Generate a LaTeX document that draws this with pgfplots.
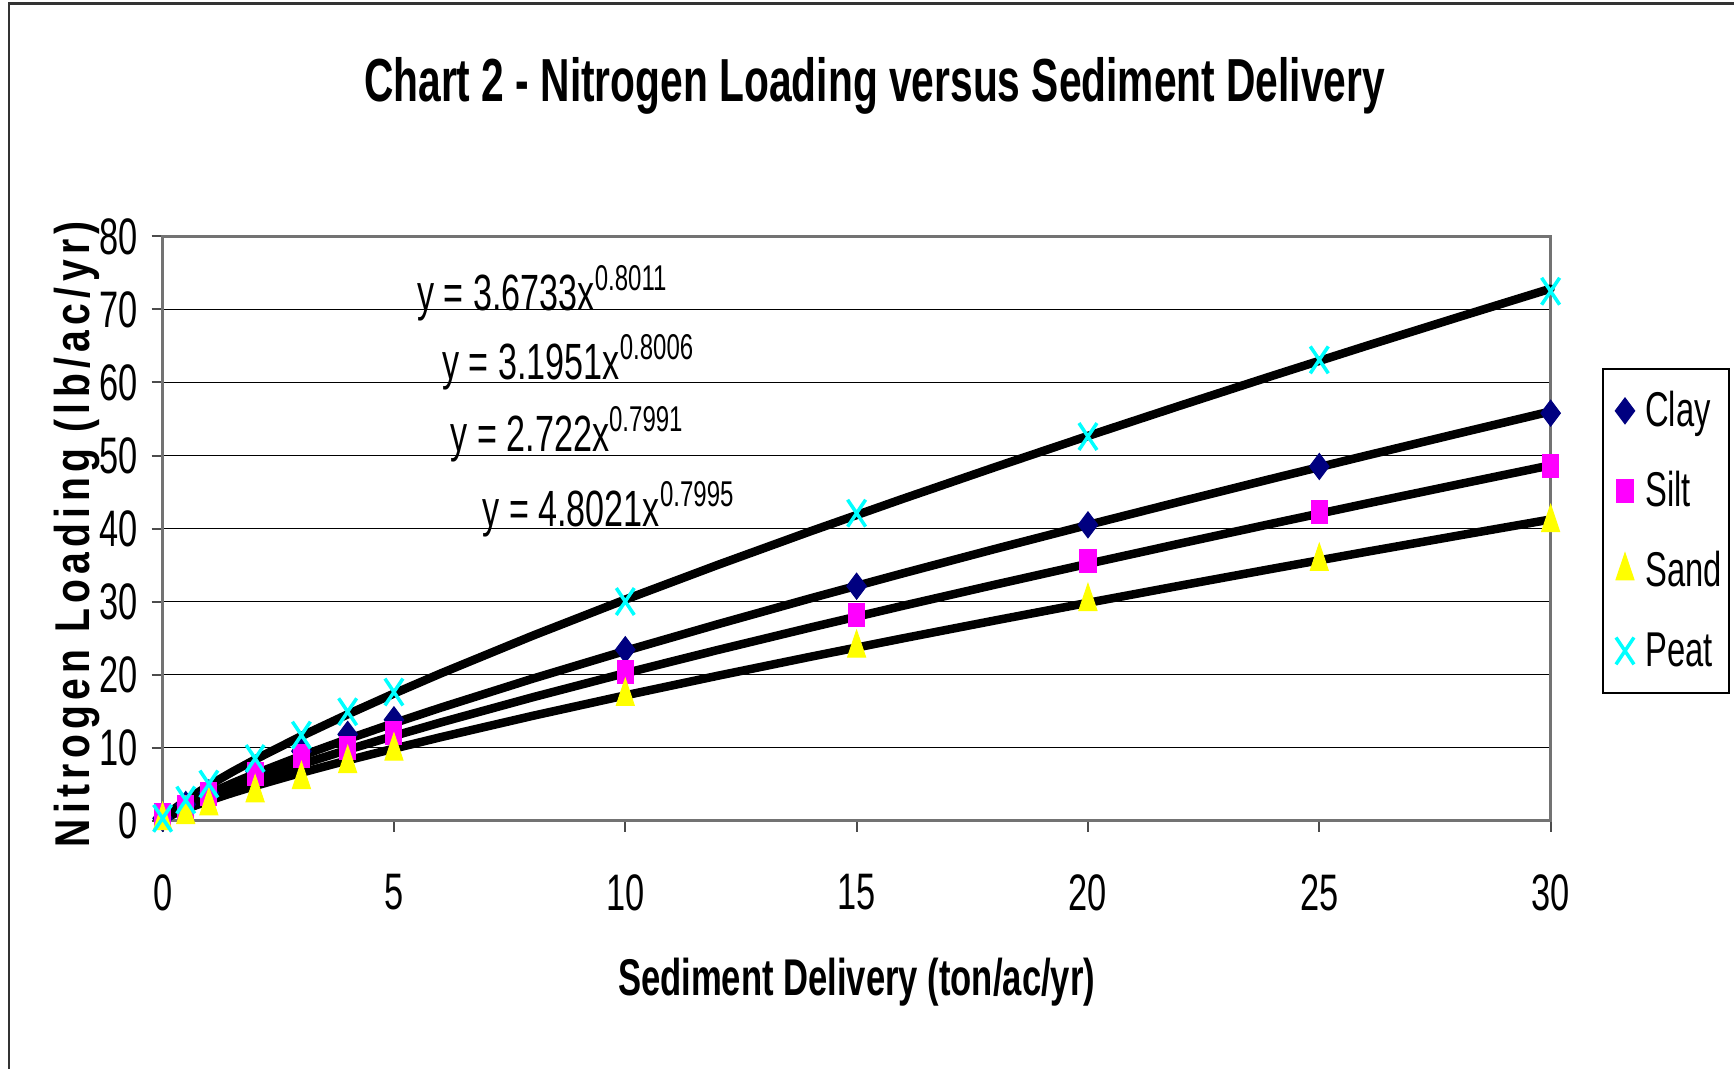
\documentclass[border=0pt]{standalone}
\usepackage{pgfplots}
\pgfplotsset{compat=1.18}
\usepackage{fontspec}
\setmainfont{Liberation Sans}[FakeStretch=0.67]
\newfontfamily\ylfont{Liberation Sans}[FakeStretch=0.8, LetterSpace=11]
\definecolor{clay}{RGB}{0,0,128}
\definecolor{silt}{RGB}{255,0,255}
\definecolor{sand}{RGB}{255,255,0}
\definecolor{peat}{RGB}{0,255,255}
\begin{document}
\begin{tikzpicture}[x=1mm,y=1mm]
\useasboundingbox (0,0) rectangle (173.4,106.8);
\draw[line width=0.25mm, black!80] (0.9,-2) -- (0.9,106.45) -- (175,106.45);
\begin{axis}[
  at={(16.26mm,24.75mm)}, anchor=south west,
  scale only axis, width=138.8mm, height=58.4mm,
  xmin=0, xmax=30, ymin=0, ymax=80,
  xtick={0,5,...,30}, ytick={0,10,...,80},
  clip=false,
  axis line style={draw=black!55, line width=0.3mm},
  ymajorgrids, major grid style={black, line width=0.12mm},
  tick align=outside, tick pos=left,
  major tick length=1.1mm,
  tick style={black!70, line width=0.2mm},
  /pgf/number format/assume math mode=true,
  tick label style={font=\fontsize{14.6pt}{16pt}\selectfont, inner sep=0pt},
  yticklabel shift=1.35mm,
  xticklabel shift=4.2mm,
  every axis title/.style={at={(axis description cs:0.513,1.257)}, anchor=center, inner sep=0pt},
  title={\fontsize{17.3pt}{20pt}\selectfont\bfseries Chart 2 - Nitrogen Loading versus Sediment Delivery},
  xlabel={\fontsize{14.7pt}{17pt}\selectfont\bfseries Sediment Delivery (ton/ac/yr)},
  xlabel style={at={(axis description cs:0.5,-0.276)}, anchor=center, inner sep=0pt, yshift=0pt},
  ylabel={\ylfont\fontsize{13.9pt}{17pt}\selectfont\bfseries Nitrogen Loading (lb/ac/yr)},
  ylabel style={at={(axis description cs:-0.062,0.49)}, anchor=center, inner sep=0pt, xshift=0pt},
  legend style={at={(axis description cs:1.037,0.775)}, anchor=north west,
    draw=black, line width=0.2mm, font=\fontsize{13.9pt}{16pt}\selectfont,
    inner xsep=0.7mm, inner ysep=1.9mm, row sep=3.4mm,
    nodes={inner sep=0pt, text height=3.9mm, text depth=0.7mm, anchor=west},
    /tikz/every odd column/.append style={column sep=1.05mm}},
  legend cell align=left,
  legend image code/.code={\path (0mm,0mm); \draw[#1] plot coordinates {(1.4mm,0mm)};},
]
% data points
\addplot[only marks, mark=diamond*, mark size=1.3mm, mark options={draw=clay, fill=clay, line width=0.1mm}] coordinates {
(0,0.3) (0.5,2.2) (1,3.8) (2,6.8) (3,9.5) (4,11.8) (5,13.8) (10,23.4) (15,32.1) (20,40.5) (25,48.5) (30,55.8)};
\addlegendentry{Clay}
\addplot[only marks, mark=square*, mark size=1.15mm, mark options={draw=silt, fill=silt, xscale=0.7, line width=0.1mm}] coordinates {
(0,0.8) (0.5,1.8) (1,3.6) (2,6.4) (3,8.8) (4,10.0) (5,12.0) (10,20.4) (15,28.2) (20,35.5) (25,42.3) (30,48.6)};
\addlegendentry{Silt}
\addplot[only marks, mark=triangle*, mark size=1.8mm, mark options={draw=sand, fill=sand, xscale=0.58, line width=0.1mm}] coordinates {
(0,0) (0.5,0.8) (1,2.0) (2,3.8) (3,5.6) (4,7.8) (5,9.5) (10,17.0) (15,23.6) (20,30.0) (25,35.5) (30,40.8)};
\addlegendentry{Sand}
\addplot[only marks, mark=x, mark size=1.9mm, mark options={draw=peat, xscale=0.67, line width=0.35mm}] coordinates {
(0,0.3) (0.5,2.8) (1,5.0) (2,8.5) (3,11.7) (4,14.9) (5,17.6) (10,30.0) (15,42.1) (20,52.6) (25,63.1) (30,72.5)};
\addlegendentry{Peat}
% trend lines (power fits, tabulated)
\addplot[forget plot, black, line width=0.85mm, line join=round, line cap=round] coordinates {
(0,0) (0.1,0.761) (0.25,1.584) (0.5,2.758) (1,4.802) (1.5,6.642) (2,8.361) (3,11.564) (4,14.547) (5,17.389) (6,20.117) (8,25.319) (10,30.264) (12,35.014) (14,39.612) (16,44.069) (18,48.421) (20,52.677) (22,56.846) (24,60.947) (26,64.977) (28,68.939) (30,72.853)};
\addplot[forget plot, black, line width=0.85mm, line join=round, line cap=round] coordinates {
(0,0) (0.1,0.582) (0.25,1.210) (0.5,2.108) (1,3.673) (1.5,5.083) (2,6.400) (3,8.857) (4,11.152) (5,13.336) (6,15.433) (8,19.433) (10,23.235) (12,26.889) (14,30.428) (16,33.859) (18,37.212) (20,40.488) (22,43.699) (24,46.858) (26,49.963) (28,53.016) (30,56.032)};
\addplot[forget plot, black, line width=0.85mm, line join=round, line cap=round] coordinates {
(0,0) (0.1,0.506) (0.25,1.053) (0.5,1.834) (1,3.195) (1.5,4.420) (2,5.565) (3,7.700) (4,9.693) (5,11.590) (6,13.412) (8,16.884) (10,20.188) (12,23.360) (14,26.432) (16,29.412) (18,32.319) (20,35.164) (22,37.953) (24,40.693) (26,43.390) (28,46.038) (30,48.653)};
\addplot[forget plot, black, line width=0.85mm, line join=round, line cap=round] coordinates {
(0,0) (0.1,0.431) (0.25,0.899) (0.5,1.564) (1,2.722) (1.5,3.764) (2,4.736) (3,6.549) (4,8.242) (5,9.850) (6,11.395) (8,14.340) (10,17.139) (12,19.828) (14,22.429) (16,24.952) (18,27.416) (20,29.823) (22,32.182) (24,34.502) (26,36.784) (28,39.025) (30,41.238)};
% trend line equations
\node[anchor=base west, inner sep=0pt, font=\fontsize{14.5pt}{17pt}\selectfont] at (axis cs:5.49,69.9) {y = 3.6733x\raisebox{2.0mm}{\fontsize{10.2pt}{12pt}\selectfont 0.8011}};
\node[anchor=base west, inner sep=0pt, font=\fontsize{14.5pt}{17pt}\selectfont] at (axis cs:6.03,60.35) {y = 3.1951x\raisebox{2.0mm}{\fontsize{10.2pt}{12pt}\selectfont 0.8006}};
\node[anchor=base west, inner sep=0pt, font=\fontsize{14.5pt}{17pt}\selectfont] at (axis cs:6.21,50.5) {y = 2.722x\raisebox{2.0mm}{\fontsize{10.2pt}{12pt}\selectfont 0.7991}};
\node[anchor=base west, inner sep=0pt, font=\fontsize{14.5pt}{17pt}\selectfont] at (axis cs:6.9,40.25) {y = 4.8021x\raisebox{2.0mm}{\fontsize{10.2pt}{12pt}\selectfont 0.7995}};
\end{axis}
\end{tikzpicture}
\end{document}
